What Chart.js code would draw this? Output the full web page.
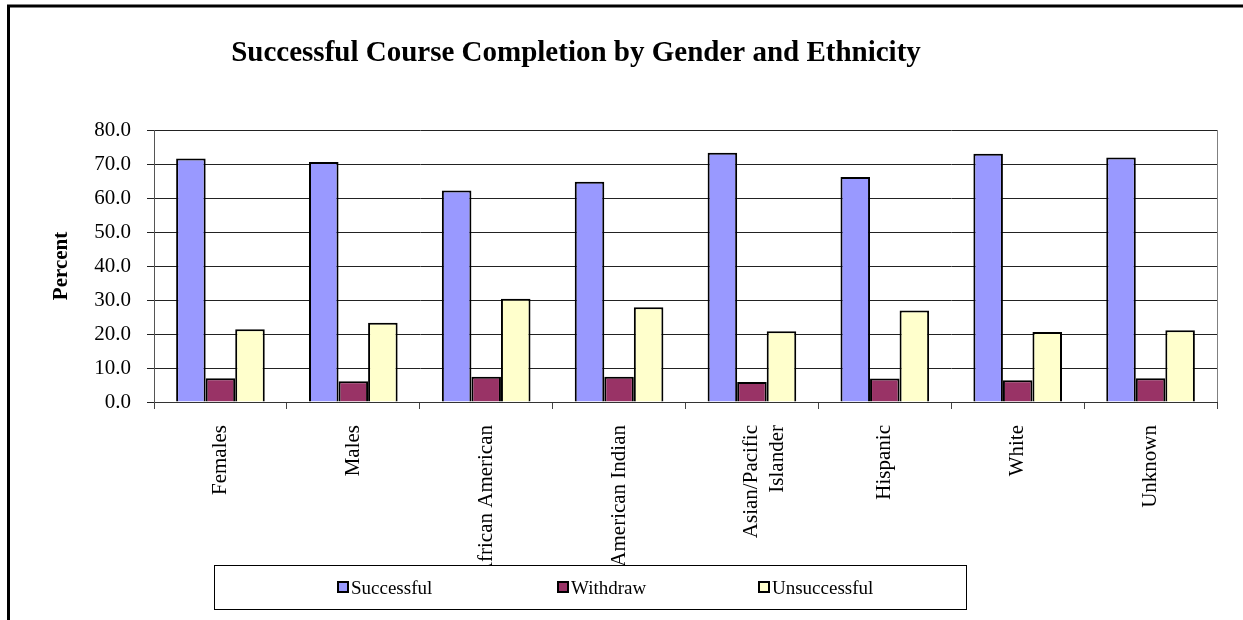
<!DOCTYPE html>
<html>
<head>
<meta charset="utf-8">
<title>Successful Course Completion by Gender and Ethnicity</title>
<script src="https://cdn.jsdelivr.net/npm/chart.js@4"></script>
<style>
  html, body { margin: 0; padding: 0; background: #fff; }
  #wrap { position: relative; width: 1243px; height: 620px; }
</style>
</head>
<body>
<div id="wrap"><canvas id="chart" width="1243" height="620"></canvas></div>
<script>
const categories = ["Females", "Males", "African American", "American Indian", ["Asian/Pacific", "Islander"], "Hispanic", "White", "Unknown"];
const successful = [71.6, 70.6, 62.2, 64.8, 73.3, 66.2, 73.0, 71.9];
const withdraw = [7.0, 6.1, 7.4, 7.4, 5.9, 6.9, 6.4, 7.0];
const unsuccessful = [21.4, 23.3, 30.4, 27.9, 20.8, 26.9, 20.6, 21.1];
const yTicks = [0, 10, 20, 30, 40, 50, 60, 70, 80];

const serif = "'Liberation Serif', 'Times New Roman', serif";

// frame, title, right plot edge and the boxed legend drawn over the axis labels
const decorations = {
  id: "decorations",
  beforeDraw(chart) {
    const ctx = chart.ctx;
    ctx.save();
    ctx.fillStyle = "#fff";
    ctx.fillRect(0, 0, chart.width, chart.height);
    ctx.strokeStyle = "#000";
    ctx.lineWidth = 3;
    ctx.beginPath();
    ctx.moveTo(8.5, chart.height);
    ctx.lineTo(8.5, 6);
    ctx.lineTo(chart.width, 6);
    ctx.stroke();

    ctx.fillStyle = "#000";
    ctx.font = "bold 29px " + serif;
    ctx.textAlign = "center";
    ctx.textBaseline = "alphabetic";
    ctx.fillText("Successful Course Completion by Gender and Ethnicity", 576, 61);
    ctx.restore();
  },
  afterDraw(chart) {
    const ctx = chart.ctx;
    const area = chart.chartArea;
    ctx.save();
    ctx.strokeStyle = "#808080";
    ctx.lineWidth = 1;
    ctx.beginPath();
    ctx.moveTo(Math.round(area.right) + 0.5, area.top);
    ctx.lineTo(Math.round(area.right) + 0.5, area.bottom);
    ctx.stroke();

    // legend box
    ctx.fillStyle = "#fff";
    ctx.fillRect(214, 565, 753, 45);
    ctx.strokeStyle = "#000";
    ctx.strokeRect(214.5, 565.5, 752, 44);

    const itemX = [338, 558, 759];
    ctx.font = "19px " + serif;
    ctx.textAlign = "left";
    ctx.textBaseline = "alphabetic";
    chart.data.datasets.forEach((ds, i) => {
      ctx.fillStyle = ds.backgroundColor;
      ctx.fillRect(itemX[i], 582, 10, 10);
      ctx.lineWidth = 2;
      ctx.strokeStyle = "#000";
      ctx.strokeRect(itemX[i], 582, 10, 10);
      ctx.fillStyle = "#000";
      ctx.fillText(ds.label, itemX[i] + 13, 594);
    });
    ctx.restore();
  }
};

new Chart(document.getElementById("chart"), {
  type: "bar",
  data: {
    labels: categories,
    datasets: [
      { label: "Successful", data: successful, backgroundColor: "#9999FF" },
      { label: "Withdraw", data: withdraw, backgroundColor: "#993366" },
      { label: "Unsuccessful", data: unsuccessful, backgroundColor: "#FFFFCC" }
    ].map(ds => Object.assign(ds, {
      borderColor: "#000",
      borderWidth: 2,
      categoryPercentage: 0.667,
      barPercentage: 1
    }))
  },
  options: {
    responsive: false,
    animation: false,
    events: [],
    layout: { padding: { left: 40, top: 130, right: 26, bottom: 18 } },
    plugins: {
      legend: { display: false },
      tooltip: { enabled: false },
      title: { display: false }
    },
    scales: {
      x: {
        grid: {
          offset: true,
          drawOnChartArea: false,
          drawTicks: true,
          tickLength: 7,
          color: "#444"
        },
        border: { color: "#333", width: 1 },
        ticks: {
          color: "#000",
          font: { family: serif, size: 21 },
          minRotation: 90,
          maxRotation: 90,
          autoSkip: false,
          padding: 16
        },
        afterFit(scale) { scale.height = 200; }
      },
      y: {
        min: 0,
        max: 80,
        afterBuildTicks(scale) { scale.ticks = yTicks.map(v => ({ value: v })); },
        grid: {
          color: "#222",
          tickLength: 7,
          drawTicks: true
        },
        border: { color: "#555", width: 1 },
        ticks: {
          color: "#000",
          font: { family: serif, size: 21 },
          padding: 16,
          callback: v => Number(v).toFixed(1)
        },
        title: {
          display: true,
          text: "Percent",
          color: "#000",
          font: { family: serif, size: 21, weight: "bold" },
          padding: { top: 9, bottom: 0 }
        },
        afterFit(scale) { scale.width = 114; }
      }
    }
  },
  plugins: [decorations]
});
</script>
</body>
</html>
